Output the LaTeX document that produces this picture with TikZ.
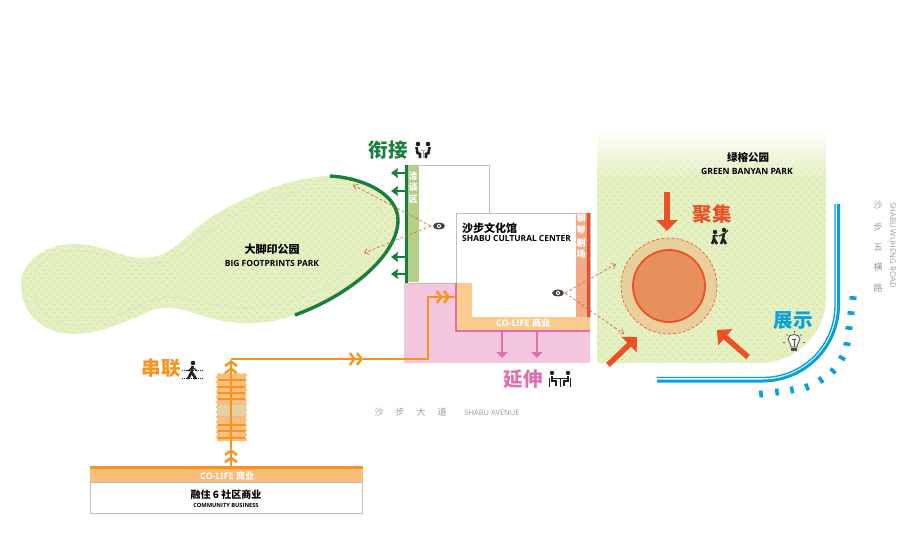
\documentclass[tikz,border=0pt]{standalone}
\usepackage{fontspec}
\setmainfont{Open Sans}
\newfontfamily\cjk{Noto Sans CJK SC}
\usepackage{tikz}
\usetikzlibrary{arrows.meta,patterns.meta,fadings,shapes.geometric}
\definecolor{parkgreen}{HTML}{E6F0BF}
\definecolor{parkdot}{HTML}{A9DDC2}
\definecolor{darkgreen}{HTML}{1A7F3C}
\definecolor{stripgreen}{HTML}{B5CF8A}
\definecolor{hotred}{HTML}{EC5025}
\definecolor{salmon}{HTML}{F4A988}
\definecolor{rosepink}{HTML}{E06FAE}
\definecolor{palepink}{HTML}{F4C6DD}
\definecolor{lineorange}{HTML}{F7941D}
\definecolor{paleorange}{HTML}{FBCB8E}
\definecolor{barorange}{HTML}{F8BE7A}
\definecolor{plazaring}{HTML}{E8CF9C}
\definecolor{plazacore}{HTML}{E8905C}
\definecolor{skyblue}{HTML}{0AA0DC}
\definecolor{boxgray}{HTML}{BDBDBD}
\definecolor{iconblack}{HTML}{222222}
\tikzfading[name=fadetop,top color=transparent!0,bottom color=transparent!100]
\tikzset{
  parkfill/.style={fill=parkgreen},
  parkdots/.style={pattern={Dots[distance=5.5pt,radius=0.75pt,angle=45]},pattern color=parkdot},
  zh/.style={font=\cjk\bfseries\fontsize{#1}{#1}\selectfont,inner sep=0pt},
  en/.style={font=\bfseries\fontsize{#1}{#1}\selectfont,inner sep=0pt},
  thinzh/.style={font=\cjk\fontsize{9}{9}\selectfont,inner sep=0pt,text=gray!80},
  thinen/.style={font=\fontsize{#1}{#1}\selectfont,inner sep=0pt,text=gray!80},
  sight/.style={densely dashed,draw=brown!80!red,line width=0.6pt,-{Straight Barb[length=4pt,width=6pt,line width=0.6pt]}},
  outarrow/.style={draw=darkgreen,line width=2pt,-{Stealth[length=7pt,width=10pt,inset=1pt]}},
  pinkarrow/.style={draw=rosepink,line width=1.5pt,-{Triangle[length=6pt,width=11pt]}},
  chevrons/.style={draw=lineorange,line width=1.5pt,-{Straight Barb[length=4.5pt,width=12pt,line width=2.4pt]Straight Barb[length=4.5pt,width=12pt,line width=2.4pt]}},
  gather/.style={draw=hotred,line width=5.5pt,-{Triangle[length=11pt,width=21pt]}},
  pics/eyeicon/.style={code={
    \fill[iconblack!85] (0,0) ellipse (6pt and 3.4pt);
    \fill[white] (0,0) circle (2.1pt);
    \fill[iconblack!85] (0,0) circle (1.1pt);}},
  pics/talkicon/.style={code={
    \fill[iconblack] (-5,-6) circle (2.3pt) (5,-6) circle (2.3pt);
    \draw[iconblack,line width=2.6pt] (-6.5,-3) -- (-5.5,3) -- (-3,4) -- (-3,8) (6.5,-3) -- (5.5,3) -- (3,4) -- (3,8);
    \draw[gray!70,line width=1pt] (-2,0) -- (2,0) (0,0) -- (0,8);}},
  pics/walkicon/.style={code={
    \fill[iconblack] (1,-9) circle (2.3pt);
    \draw[iconblack,line width=2.6pt] (0.5,-6) -- (-0.5,0) -- (-4,7) (-0.5,0) -- (4,7);
    \draw[iconblack,line width=1.2pt] (0.5,-5) -- (5,-1) (0.5,-5) -- (-4,-1);
    \draw[iconblack,densely dotted,line width=0.8pt] (-10,-2) -- (10,-2) (-10,6) -- (10,6);}},
  pics/siticon/.style={code={
    \fill[iconblack] (-8,-7) circle (2.2pt) (8,-7) circle (2.2pt);
    \draw[iconblack,line width=2.6pt] (-8,-4) -- (-8,1) -- (-4,1) -- (-4,6) (8,-4) -- (8,1) -- (4,1) -- (4,6);
    \draw[iconblack,line width=0.8pt] (-7,-2) -- (7,-2) (0,-2) -- (0,7) (-10.5,-2) -- (-10.5,7) (10.5,-2) -- (10.5,7);}},
  pics/playicon/.style={code={
    \fill[iconblack] (-4,-5) circle (2.2pt) (5,-7) circle (2.2pt);
    \draw[iconblack,line width=2.6pt] (-5,-2) -- (-5,2) -- (-7,7) (-5,2) -- (-2,7) (5,-4) -- (4,2) -- (2,7) (4,2) -- (7,7);
    \draw[iconblack,line width=1.2pt] (-5,-2) -- (-1,-1) (5,-3) -- (0,-1) (5,-3) -- (9,-7);}},
  pics/bulbicon/.style={code={
    \draw[iconblack!80,line width=0.8pt,fill=white!90!gray] (-3,5) .. controls (-3,1) and (-6,0) .. (-6,-3) .. controls (-6,-9) and (6,-9) .. (6,-3) .. controls (6,0) and (3,1) .. (3,5) -- cycle;
    \fill[iconblack!80] (-3,6) rectangle (3,9);
    \draw[iconblack!80,line width=0.7pt] (-2,-3) -- (2,-3) (0,-3) -- (0,5);
    \foreach \a in {180,225,270,315,0}
      \draw[iconblack!70,line width=0.6pt] (\a:9) -- (\a:11);}}
}
\begin{document}
\begin{tikzpicture}[x=1pt,y=-1pt]
  \useasboundingbox (0,0) rectangle (924,546);
  \def\footpath{(330,176) .. controls (365,178) and (398,195) .. (398,220) .. controls (398,255) and (350,295) .. (295,315) .. controls (265,326) and (235,325) .. (210,318) .. controls (190,312) and (170,303) .. (150,311) .. controls (125,322) and (100,334) .. (73,334) .. controls (40,334) and (21,310) .. (21,285) .. controls (21,262) and (45,244) .. (73,244) .. controls (105,244) and (120,258) .. (143,258) .. controls (175,258) and (185,232) .. (215,215) .. controls (250,193) and (295,177) .. (330,176) -- cycle}
  \fill[parkfill] \footpath;
  \fill[parkdots] \footpath;
  \draw[gray!28,line width=0.5pt] (330,188) .. controls (360,188) and (383,200) .. (383,218) .. controls (383,245) and (340,285) .. (300,298) .. controls (265,310) and (235,309) .. (210,304) .. controls (190,300) and (170,293) .. (150,301) .. controls (125,312) and (100,325) .. (75,325) .. controls (50,325) and (33,308) .. (33,285) .. controls (33,266) and (52,251) .. (73,251) .. controls (105,251) and (125,264) .. (150,264) .. controls (180,264) and (195,240) .. (222,223) .. controls (255,202) and (295,188) .. (330,188) -- cycle;
  \draw[darkgreen,line width=3.4pt] (330,176) .. controls (365,178) and (398,195) .. (398,220) .. controls (398,255) and (350,295) .. (295,315);

  \def\greenpark{(597,130) -- (826,130) [rounded corners=66pt] -- (826,363) [sharp corners] -- (597,363) -- cycle}
  \fill[parkfill] \greenpark;
  \fill[parkdots] \greenpark;
  \fill[white,path fading=fadetop] (596,129) rectangle (827,180);

  \fill[palepink] (404,283) rectangle (590,363);
  \draw[boxgray,line width=1pt,fill=white] (405,165) rectangle (489,283);
  \fill[stripgreen] (407,165) rectangle (419,282);
  \fill[darkgreen] (405,165) rectangle (408,283);
  \draw[boxgray,line width=1pt,fill=white] (456,213) -- (590,213) -- (590,317) -- (456,317) -- cycle;
  \fill[salmon] (576,213) rectangle (587,317);
  \fill[hotred] (587,213) rectangle (590,317);
  \fill[paleorange] (456,283) -- (472,283) -- (472,317) -- (590,317) -- (590,331) -- (456,331) -- cycle;
  \draw[rosepink,line width=2.2pt] (456,283) -- (456,331) -- (590,331);

  \coordinate (talkA) at (405,173); \coordinate (talkAend) at (391,173);
  \coordinate (talkB) at (405,191); \coordinate (talkBend) at (391,191);
  \coordinate (talkC) at (405,257); \coordinate (talkCend) at (391,257);
  \coordinate (talkD) at (405,274); \coordinate (talkDend) at (391,274);
  \draw[outarrow] (talkA) -- (talkAend);
  \draw[outarrow] (talkB) -- (talkBend);
  \draw[outarrow] (talkC) -- (talkCend);
  \draw[outarrow] (talkD) -- (talkDend);

  \coordinate (shopA) at (502,332); \coordinate (shopAend) at (502,358);
  \coordinate (shopB) at (537,332); \coordinate (shopBend) at (537,358);
  \draw[pinkarrow] (shopA) -- (shopAend);
  \draw[pinkarrow] (shopB) -- (shopBend);

  \draw[hotred,densely dashed,line width=0.6pt,fill=plazaring] (669,286) circle (48pt);
  \node[circle,draw=hotred,line width=1.8pt,fill=plazacore,minimum size=72pt,inner sep=0pt] (plaza) at (669,286) {};

  \coordinate (northA) at (667,192); \coordinate (northB) at (667,231);
  \coordinate (westA) at (608,365); \coordinate (westB) at (637,337);
  \coordinate (eastA) at (748,357); \coordinate (eastB) at (717,330);
  \draw[gather] (northA) -- (northB);
  \draw[gather] (westA) -- (westB);
  \draw[gather] (eastA) -- (eastB);

  \draw[skyblue,line width=3pt] (657,381) [rounded corners=76pt] -- (838.5,381) -- (838.5,204);
  \draw[skyblue,line width=1.4pt] (657,377.5) [rounded corners=72pt] -- (835,377.5) -- (835,204);
  \foreach \mx/\my/\ma in {853/298/4,851/313/4,849/328/4,847/344/8,842/358/30,833/371/42,821/380/55,807/387/68,792/390/78,777/392/82,761/394/85}
    \draw[skyblue,line width=3.6pt] (\mx,\my) ++(\ma:-3.5) -- ++(\ma:7);

  \fill[barorange] (216,373) rectangle (247,441);
  \draw[white,densely dashed,line width=0.8pt] (216.5,373) rectangle (246.5,441);
  \fill[plazaring] (217,404) rectangle (246,416);
  \draw[gray!50,densely dashed,line width=0.5pt] (217,404) -- (246,404) (217,416) -- (246,416);
  \foreach \sy in {380,387,393,399,425,431,438}
    \draw[lineorange,line width=2.2pt] (218,\sy) -- (245,\sy);

  \fill[barorange] (90,469) rectangle (363,482);
  \draw[boxgray,line width=1pt,fill=white] (90.5,482) rectangle (362.5,513.5);
  \fill[lineorange] (90,466) rectangle (363,469);

  \coordinate (busA) at (231,467); \coordinate (busB) at (231,449);
  \coordinate (busC) at (231,449); \coordinate (busD) at (231,360);
  \coordinate (turnA) at (231,359); \coordinate (turnB) at (363,359);
  \coordinate (turnC) at (363,359); \coordinate (turnD) at (428,359);
  \coordinate (turnE) at (428,297); \coordinate (turnF) at (455,297);
  \draw[chevrons] (busA) -- (busB);
  \draw[chevrons] (busC) -- (busD);
  \draw[chevrons] (turnA) -- (turnB);
  \draw[lineorange,line width=1.5pt] (turnC) -- (turnD) -- (turnE) -- (turnF);
  \coordinate (turnG) at (428,297); \coordinate (turnH) at (450,297);
  \draw[chevrons] (turnG) -- (turnH);

  \pic (eyeA) at (439,226) {eyeicon};
  \pic (eyeB) at (558,293) {eyeicon};
  \coordinate (seeA) at (431,226); \coordinate (seeAup) at (353,185); \coordinate (seeAdn) at (364,253);
  \coordinate (seeB) at (565,293); \coordinate (seeBup) at (616,264); \coordinate (seeBdn) at (624,334);
  \draw[sight] (seeA) -- (seeAup);
  \draw[sight] (seeA) -- (seeAdn);
  \draw[sight] (seeB) -- (seeBup);
  \draw[sight] (seeB) -- (seeBdn);

  \pic (talk) at (423,150) {talkicon};
  \pic (walk) at (192,372) {walkicon};
  \pic (sit) at (560,380) {siticon};
  \pic (play) at (719,237) {playicon};
  \pic (bulb) at (794,342) {bulbicon};

  \node[zh=19.5,text=darkgreen] (joinlabel) at (388,150) {衔接};
  \node[zh=19.5,text=hotred] (gatherlabel) at (712,214) {聚集};
  \node[zh=19.5,text=skyblue] (showlabel) at (793,321) {展示};
  \node[zh=19.5,text=rosepink] (extendlabel) at (523,379) {延伸};
  \node[zh=19.5,text=lineorange] (linklabel) at (161,368) {串联};

  \node[zh=11] (footzh) at (272,249) {大脚印公园};
  \node[en=8.5] (footen) at (272,263) {BIG FOOTPRINTS PARK};
  \node[zh=10.5] (banyanzh) at (748,157) {绿榕公园};
  \node[en=8.6] (banyanen) at (747,171) {GREEN BANYAN PARK};
  \node[zh=11,anchor=west] (centerzh) at (462,228) {沙步文化馆};
  \node[en=8.4,anchor=west] (centeren) at (462,238) {SHABU CULTURAL CENTER};

  \node[zh=9,text=white] (shopco) at (523,323) {\fontfamily{\rmdefault}\selectfont CO-LIFE \cjk 商业};
  \node[zh=9,text=white] (busco) at (227,476) {\fontfamily{\rmdefault}\selectfont CO-LIFE \cjk 商业};
  \node[zh=10] (buszh) at (226,495) {融住 6 社区商业};
  \node[en=5.7] (busen) at (226,505) {COMMUNITY BUSINESS};

  \foreach \ty/\tc in {176/洽,187/谈,199/区}
    \node[zh=9,text=white] (talk\ty) at (413,\ty) {\tc};
  \foreach \ty/\tc in {218/钢,230/琴,243/剧,254/场}
    \node[zh=9,text=white] (piano\ty) at (581,\ty) {\tc};
  \foreach \tx/\tc in {379/沙,400/步,421/大,442/道}
    \node[thinzh] (ave\tx) at (\tx,412) {\tc};
  \foreach \ty/\tc in {205/沙,227/步,247/五,267/横,288/路}
    \node[thinzh] (road\ty) at (878,\ty) {\tc};
  \node[thinen=7.5] (aveen) at (492,413) {SHABU AVENUE};
  \node[thinen=7.8,rotate=-90] (roaden) at (893,245) {SHABU WUHENG ROAD};
\end{tikzpicture}
\end{document}
